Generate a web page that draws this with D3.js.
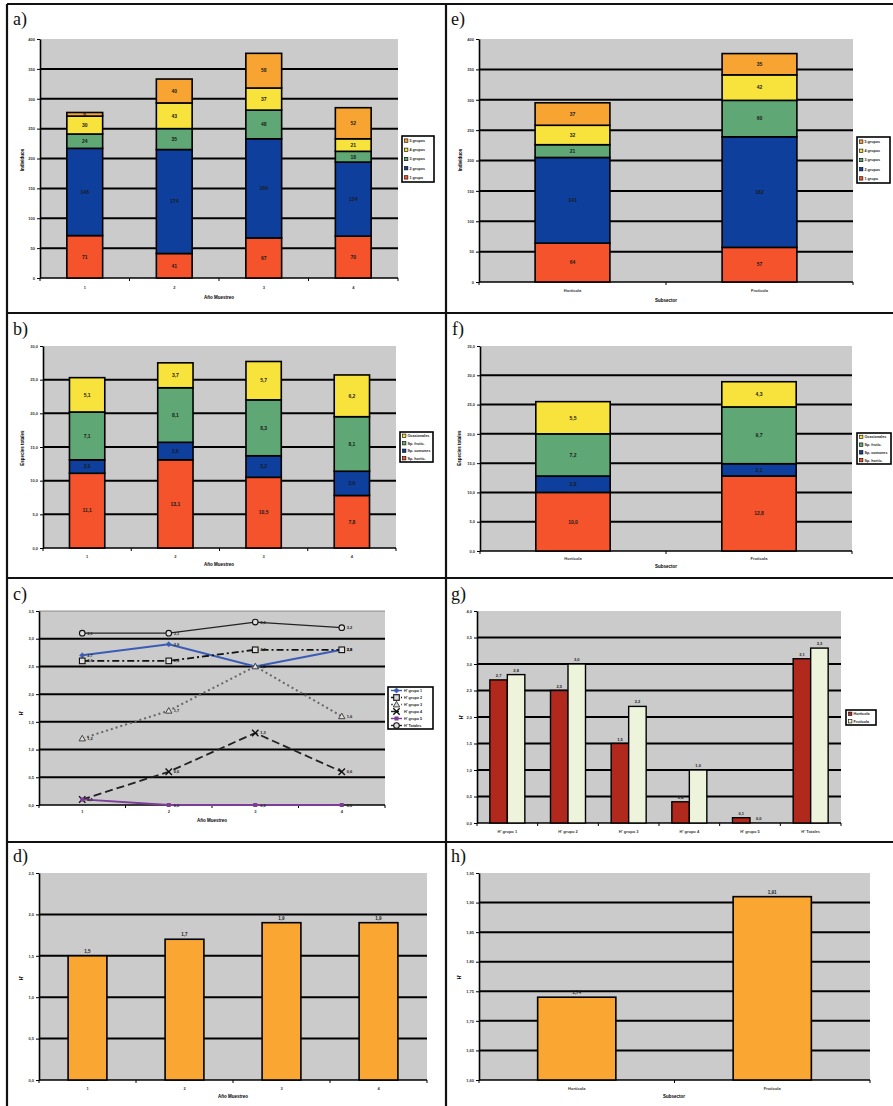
<!DOCTYPE html>
<html>
<head>
<meta charset="utf-8">
<script src="https://cdn.jsdelivr.net/npm/d3@7"></script>
<style>
  body { margin: 0; background: #fff; }
  svg { display: block; }
  text { font-family: "Liberation Sans", Arial, sans-serif; }
</style>
</head>
<body>
<svg id="fig" width="893" height="1106"></svg>
<script>
// ---------- categories ----------
const years = ["1", "2", "3", "4"];
const sectors = ["Hortícola", "Frutícola"];
const groupLabels = ["1 grupo", "2 grupos", "3 grupos", "4 grupos", "5 grupos"];
const speciesLabels = ["Sp. hortíc.", "Sp. comunes", "Sp. frutíc.", "Ocasionales"];
const diversityLabels = ["H' grupo 1", "H' grupo 2", "H' grupo 3", "H' grupo 4", "H' grupo 5", "H' Totales"];

// ---------- a) abundance by year, stacked by group ----------
const aGrupo1 = [71, 41, 67, 70];
const aGrupo2 = [146, 174, 166, 124];
const aGrupo3 = [24, 35, 48, 18];
const aGrupo4 = [30, 43, 37, 21];
const aGrupo5 = [6, 40, 58, 52];

// ---------- e) abundance by sector ----------
const eGrupo1 = [64, 57];
const eGrupo2 = [141, 182];
const eGrupo3 = [21, 60];
const eGrupo4 = [32, 42];
const eGrupo5 = [37, 35];

// ---------- b) species by year ----------
const bSerie1 = [11.1, 13.1, 10.5, 7.8];
const bSerie2 = [2.0, 2.6, 3.2, 3.6];
const bSerie3 = [7.1, 8.1, 8.3, 8.1];
const bSerie4 = [5.1, 3.7, 5.7, 6.2];

// ---------- f) species by sector ----------
const fSerie1 = [10.0, 12.8];
const fSerie2 = [2.8, 2.1];
const fSerie3 = [7.2, 9.7];
const fSerie4 = [5.5, 4.3];

// ---------- c) diversity H' by year ----------
const hGrupo1 = [2.7, 2.9, 2.5, 2.8];
const hGrupo2 = [2.6, 2.6, 2.8, 2.8];
const hGrupo3 = [1.2, 1.7, 2.5, 1.6];
const hGrupo4 = [0.1, 0.6, 1.3, 0.6];
const hGrupo5 = [0.1, 0.0, 0.0, 0.0];
const hTotales = [3.1, 3.1, 3.3, 3.2];

// ---------- g) diversity H' by sector ----------
const gHorticola = [2.7, 2.5, 1.5, 0.4, 0.1, 3.1];
const gFruticola = [2.8, 3.0, 2.2, 1.0, 0.0, 3.3];

// ---------- d) and h) ----------
const dValores = [1.5, 1.7, 1.9, 1.9];
const hValores = [1.74, 1.91];

// ---------- tick values ----------
const aTicks = [0, 50, 100, 150, 200, 250, 300, 350, 400];
const bTicks = [0, 5, 10, 15, 20, 25, 30];
const fTicks = [0, 5, 10, 15, 20, 25, 30, 35];
const cTicks = [0, 0.5, 1, 1.5, 2, 2.5, 3, 3.5];
const gTicks = [0, 0.5, 1, 1.5, 2, 2.5, 3, 3.5, 4];
const dTicks = [0, 0.5, 1, 1.5, 2, 2.5];
const hTicks = [1.60, 1.65, 1.70, 1.75, 1.80, 1.85, 1.90, 1.95];

// ---------- styling ----------
const PLOT_BG = "#cbcbcb";
const stackColors = ["#f4532b", "#0e3f9d", "#5fa774", "#f8e33c", "#f8a433"];
const barOrange = "#f9a632";
const hortRed = "#b1291d";
const frutCream = "#eef3dc";

const loc = d3.formatLocale({ decimal: ",", thousands: ".", grouping: [3], currency: ["", ""] });
const f0 = d3.format("d");
const f1 = loc.format(".1f");
const f2 = loc.format(".2f");

const svg = d3.select("#fig");

// ---------- shared helpers ----------
function plotBackground(p) {
  svg.append("rect")
    .attr("x", p.x0).attr("y", p.y0)
    .attr("width", p.x1 - p.x0).attr("height", p.y1 - p.y0)
    .attr("fill", PLOT_BG);
}

function yAxis(p, ticks, fmt) {
  const dom = [ticks[0], ticks[ticks.length - 1]];
  const y = d3.scaleLinear().domain(dom).range([p.y1, p.y0]);
  svg.append("g").selectAll("line")
    .data(ticks.slice(1, -1))
    .join("line")
    .attr("x1", p.x0).attr("x2", p.x1)
    .attr("y1", d => y(d)).attr("y2", d => y(d))
    .attr("stroke", "#000").attr("stroke-width", 2);
  const ax = svg.append("g")
    .attr("transform", `translate(${p.x0},0)`)
    .call(d3.axisLeft(y).tickValues(ticks).tickSize(3).tickSizeOuter(0).tickPadding(2).tickFormat(fmt));
  ax.select(".domain").attr("stroke-width", 1.6);
  ax.selectAll(".tick line").attr("stroke-width", 1);
  ax.selectAll("text").attr("font-size", 4).attr("font-weight", "bold").attr("fill", "#333");
  return y;
}

function xAxis(p, cats, labelY) {
  const x = d3.scaleBand().domain(cats).range([p.x0, p.x1]);
  const g = svg.append("g");
  g.append("line")
    .attr("x1", p.x0).attr("x2", p.x1).attr("y1", p.y1).attr("y2", p.y1)
    .attr("stroke", "#000").attr("stroke-width", 1.6);
  g.selectAll("line.tk")
    .data(d3.range(cats.length + 1))
    .join("line").attr("class", "tk")
    .attr("x1", i => p.x0 + i * x.bandwidth()).attr("x2", i => p.x0 + i * x.bandwidth())
    .attr("y1", p.y1).attr("y2", p.y1 + 3)
    .attr("stroke", "#000").attr("stroke-width", 1);
  g.selectAll("text")
    .data(cats)
    .join("text")
    .attr("x", d => x(d) + x.bandwidth() / 2).attr("y", labelY)
    .attr("text-anchor", "middle").attr("font-size", 4).attr("font-weight", "bold").attr("fill", "#333")
    .text(d => d);
  return x;
}

function axisTitles(xt, yt) {
  if (xt) {
    svg.append("text").attr("x", xt.x).attr("y", xt.y)
      .attr("text-anchor", "middle").attr("font-size", 4.5).attr("font-weight", "bold")
      .text(xt.text);
  }
  if (yt) {
    svg.append("text")
      .attr("transform", `translate(${yt.x},${yt.y}) rotate(-90)`)
      .attr("text-anchor", "middle").attr("font-size", 4.5).attr("font-weight", "bold")
      .text(yt.text);
  }
}

function panelTag(txt, x, y) {
  svg.append("text").attr("x", x).attr("y", y)
    .style("font-family", "'Liberation Serif', 'DejaVu Serif', serif")
    .attr("font-size", 18).attr("fill", "#111")
    .text(txt);
}

function boxLegend(box, items) {
  const g = svg.append("g");
  g.append("rect").attr("x", box.x).attr("y", box.y).attr("width", box.w).attr("height", box.h)
    .attr("fill", "#fff").attr("stroke", "#000").attr("stroke-width", 1.6);
  const step = box.h / items.length;
  items.forEach((it, i) => {
    const cy = box.y + step * (i + 0.5);
    if (it.draw) {
      it.draw(g, box.x + 3, box.x + 14, cy);
    } else {
      g.append("rect").attr("x", box.x + 2.5).attr("y", cy - 1.7).attr("width", 3.4).attr("height", 3.4)
        .attr("fill", it.color).attr("stroke", "#000").attr("stroke-width", 0.6);
    }
    g.append("text").attr("x", box.x + (it.draw ? 16 : 7.5)).attr("y", cy + 1.4)
      .attr("font-size", 3.7).attr("font-weight", "bold").attr("fill", "#222")
      .text(it.label);
  });
}

// stacked columns: series listed bottom to top
function stackedPanel(cfg) {
  const p = cfg.plot;
  plotBackground(p);
  const y = yAxis(p, cfg.ticks, cfg.tickFmt);
  const x = xAxis(p, cfg.cats, cfg.xLabelY);
  const rows = cfg.cats.map((c, i) => {
    const r = { cat: c };
    cfg.series.forEach((s, k) => { r["s" + k] = s[i]; });
    return r;
  });
  const keys = cfg.series.map((s, k) => "s" + k);
  const stacked = d3.stack().keys(keys)(rows);
  const bw = x.bandwidth() * 0.4;
  stacked.forEach((layer, k) => {
    const g = svg.append("g");
    g.selectAll("rect").data(layer).join("rect")
      .attr("x", d => x(d.data.cat) + (x.bandwidth() - bw) / 2)
      .attr("width", bw)
      .attr("y", d => y(d[1]))
      .attr("height", d => y(d[0]) - y(d[1]))
      .attr("fill", cfg.colors[k])
      .attr("stroke", "#000").attr("stroke-width", 1.6);
    g.selectAll("text").data(layer).join("text")
      .attr("x", d => x(d.data.cat) + x.bandwidth() / 2)
      .attr("y", d => (y(d[0]) + y(d[1])) / 2 + 1.8)
      .attr("text-anchor", "middle").attr("font-size", 5).attr("font-weight", "bold")
      .attr("fill", "#1a1a1a")
      .text(d => cfg.valueFmt(d[1] - d[0]));
  });
  boxLegend(cfg.legend, cfg.legendItems);
  axisTitles(cfg.xTitle, cfg.yTitle);
}

function simpleBarPanel(cfg) {
  const p = cfg.plot;
  plotBackground(p);
  const y = yAxis(p, cfg.ticks, cfg.tickFmt);
  const x = xAxis(p, cfg.cats, cfg.xLabelY);
  const bw = x.bandwidth() * 0.4;
  const base = cfg.ticks[0];
  const data = cfg.cats.map((c, i) => ({ cat: c, v: cfg.values[i] }));
  svg.append("g").selectAll("rect").data(data).join("rect")
    .attr("x", d => x(d.cat) + (x.bandwidth() - bw) / 2)
    .attr("width", bw)
    .attr("y", d => y(d.v))
    .attr("height", d => y(base) - y(d.v))
    .attr("fill", barOrange).attr("stroke", "#000").attr("stroke-width", 1.6);
  svg.append("g").selectAll("text").data(data).join("text")
    .attr("x", d => x(d.cat) + x.bandwidth() / 2)
    .attr("y", d => y(d.v) - 3)
    .attr("text-anchor", "middle").attr("font-size", 4.5).attr("font-weight", "bold").attr("fill", "#222")
    .text(d => cfg.valueFmt(d.v));
  axisTitles(cfg.xTitle, cfg.yTitle);
}

// ---------- figure frame ----------
const frame = svg.append("g").attr("stroke", "#111").attr("stroke-width", 2.2);
frame.append("line").attr("x1", 7).attr("x2", 893).attr("y1", 4).attr("y2", 4);
frame.append("line").attr("x1", 7).attr("x2", 7).attr("y1", 4).attr("y2", 1106);
frame.append("line").attr("x1", 446).attr("x2", 446).attr("y1", 4).attr("y2", 1106);
[313, 578, 842].forEach(v => frame.append("line").attr("x1", 7).attr("x2", 893).attr("y1", v).attr("y2", v));

const groupLegend = groupLabels.map((l, i) => ({ label: l, color: stackColors[i] })).reverse();
const speciesLegend = speciesLabels.map((l, i) => ({ label: l, color: stackColors[i] })).reverse();

// ---------- a) ----------
panelTag("a)", 13, 25);
stackedPanel({
  plot: { x0: 40, x1: 398, y0: 39, y1: 278 },
  cats: years, ticks: aTicks, tickFmt: f0, valueFmt: f0, xLabelY: 289,
  series: [aGrupo1, aGrupo2, aGrupo3, aGrupo4, aGrupo5], colors: stackColors,
  legend: { x: 402, y: 136, w: 32, h: 46 }, legendItems: groupLegend,
  xTitle: { x: 219, y: 299, text: "Año Muestreo" },
  yTitle: { x: 24, y: 160, text: "Individuos" }
});

// ---------- e) ----------
panelTag("e)", 451, 25);
stackedPanel({
  plot: { x0: 479, x1: 853, y0: 39, y1: 282 },
  cats: sectors, ticks: aTicks, tickFmt: f0, valueFmt: f0, xLabelY: 292,
  series: [eGrupo1, eGrupo2, eGrupo3, eGrupo4, eGrupo5], colors: stackColors,
  legend: { x: 857, y: 137, w: 33, h: 46 }, legendItems: groupLegend,
  xTitle: { x: 666, y: 302, text: "Subsector" },
  yTitle: { x: 462, y: 160, text: "Individuos" }
});

// ---------- b) ----------
panelTag("b)", 13, 335);
stackedPanel({
  plot: { x0: 43, x1: 396, y0: 346, y1: 548 },
  cats: years, ticks: bTicks, tickFmt: f1, valueFmt: f1, xLabelY: 558,
  series: [bSerie1, bSerie2, bSerie3, bSerie4], colors: stackColors.slice(0, 4),
  legend: { x: 400, y: 432, w: 33, h: 30 }, legendItems: speciesLegend,
  xTitle: { x: 219, y: 566, text: "Año Muestreo" },
  yTitle: { x: 24, y: 448, text: "Especies totales" }
});

// ---------- f) ----------
panelTag("f)", 452, 335);
stackedPanel({
  plot: { x0: 480, x1: 852, y0: 346, y1: 551 },
  cats: sectors, ticks: fTicks, tickFmt: f1, valueFmt: f1, xLabelY: 560,
  series: [fSerie1, fSerie2, fSerie3, fSerie4], colors: stackColors.slice(0, 4),
  legend: { x: 857, y: 433, w: 34, h: 31 }, legendItems: speciesLegend,
  xTitle: { x: 666, y: 568, text: "Subsector" },
  yTitle: { x: 461, y: 448, text: "Especies totales" }
});

// ---------- c) line chart ----------
panelTag("c)", 13, 600);
(function () {
  const p = { x0: 39, x1: 385, y0: 611, y1: 805 };
  plotBackground(p);
  svg.append("line").attr("x1", p.x0).attr("x2", p.x1).attr("y1", p.y0).attr("y2", p.y0)
    .attr("stroke", "#777").attr("stroke-width", 0.8);
  const y = yAxis(p, cTicks, f1);
  const x = xAxis(p, years, 813);
  const cx = c => x(c) + x.bandwidth() / 2;

  const markers = {
    diamond: (g, px, py, col) => g.append("path")
      .attr("d", `M${px},${py - 2.6}L${px + 2.6},${py}L${px},${py + 2.6}L${px - 2.6},${py}Z`)
      .attr("fill", col).attr("stroke", col).attr("stroke-width", 0.6),
    square: (g, px, py) => g.append("rect").attr("x", px - 2.8).attr("y", py - 2.8)
      .attr("width", 5.6).attr("height", 5.6).attr("fill", "#ddd").attr("stroke", "#111").attr("stroke-width", 1.1),
    triangle: (g, px, py) => g.append("path")
      .attr("d", `M${px},${py - 3.2}L${px + 3.2},${py + 2.4}L${px - 3.2},${py + 2.4}Z`)
      .attr("fill", "#ddd").attr("stroke", "#444").attr("stroke-width", 1),
    cross: (g, px, py) => g.append("path")
      .attr("d", `M${px - 3.2},${py - 3.2}L${px + 3.2},${py + 3.2}M${px + 3.2},${py - 3.2}L${px - 3.2},${py + 3.2}`)
      .attr("stroke", "#111").attr("stroke-width", 1.4),
    dot: (g, px, py, col) => g.append("rect").attr("x", px - 2).attr("y", py - 2)
      .attr("width", 4).attr("height", 4).attr("fill", col),
    circle: (g, px, py) => g.append("circle").attr("cx", px).attr("cy", py).attr("r", 2.8)
      .attr("fill", "#ddd").attr("stroke", "#111").attr("stroke-width", 1.1)
  };

  const series = [
    { label: diversityLabels[0], vals: hGrupo1, color: "#3a5cb6", width: 2, dash: null, mk: "diamond" },
    { label: diversityLabels[1], vals: hGrupo2, color: "#111", width: 1.8, dash: "7,3,2,3", mk: "square" },
    { label: diversityLabels[2], vals: hGrupo3, color: "#666", width: 2, dash: "2,3", mk: "triangle" },
    { label: diversityLabels[3], vals: hGrupo4, color: "#222", width: 1.8, dash: "8,4", mk: "cross" },
    { label: diversityLabels[4], vals: hGrupo5, color: "#7b3d98", width: 1.8, dash: null, mk: "dot" },
    { label: diversityLabels[5], vals: hTotales, color: "#222", width: 1.4, dash: null, mk: "circle" }
  ];
  const line = d3.line().x(d => cx(d.c)).y(d => y(d.v));
  series.forEach(s => {
    const pts = years.map((c, i) => ({ c, v: s.vals[i] }));
    const g = svg.append("g");
    g.append("path").datum(pts).attr("d", line)
      .attr("fill", "none").attr("stroke", s.color).attr("stroke-width", s.width)
      .attr("stroke-dasharray", s.dash);
    pts.forEach(pt => markers[s.mk](g, cx(pt.c), y(pt.v), s.color));
    g.selectAll("text").data(pts).join("text")
      .attr("x", d => cx(d.c) + 5).attr("y", d => y(d.v) + 1.5)
      .attr("font-size", 4).attr("font-weight", "bold").attr("fill", "#222")
      .text(d => f1(d.v));
  });
  boxLegend({ x: 388, y: 687, w: 45, h: 42 }, series.map(s => ({
    label: s.label,
    draw: (g, a, b, cy) => {
      g.append("line").attr("x1", a).attr("x2", b).attr("y1", cy).attr("y2", cy)
        .attr("stroke", s.color).attr("stroke-width", 1.4).attr("stroke-dasharray", s.dash);
      markers[s.mk](g, (a + b) / 2, cy, s.color);
    }
  })));
  axisTitles({ x: 212, y: 822, text: "Año Muestreo" }, { x: 23, y: 713, text: "H'" });
})();

// ---------- g) grouped columns ----------
panelTag("g)", 451, 600);
(function () {
  const p = { x0: 477, x1: 841, y0: 611, y1: 823 };
  plotBackground(p);
  const y = yAxis(p, gTicks, f1);
  const x = xAxis(p, diversityLabels, 833);
  const inner = d3.scaleBand().domain(sectors).range([0, 35]);
  const off = (x.bandwidth() - 35) / 2;
  const sets = [gHorticola, gFruticola];
  const cols = [hortRed, frutCream];
  sectors.forEach((s, k) => {
    const data = diversityLabels.map((c, i) => ({ c, v: sets[k][i] }));
    const g = svg.append("g");
    g.selectAll("rect").data(data).join("rect")
      .attr("x", d => x(d.c) + off + inner(s))
      .attr("width", inner.bandwidth())
      .attr("y", d => y(d.v))
      .attr("height", d => y(0) - y(d.v))
      .attr("fill", cols[k]).attr("stroke", "#000").attr("stroke-width", 1.4);
    g.selectAll("text").data(data).join("text")
      .attr("x", d => x(d.c) + off + inner(s) + inner.bandwidth() / 2)
      .attr("y", d => y(d.v) - 3)
      .attr("text-anchor", "middle").attr("font-size", 4).attr("font-weight", "bold").attr("fill", "#222")
      .text(d => f1(d.v));
  });
  boxLegend({ x: 846, y: 710, w: 30, h: 15 }, sectors.map((s, k) => ({ label: s, color: cols[k] })));
  axisTitles(null, { x: 463, y: 717, text: "H'" });
})();

// ---------- d) ----------
panelTag("d)", 13, 862);
simpleBarPanel({
  plot: { x0: 39, x1: 427, y0: 873, y1: 1080 },
  cats: years, ticks: dTicks, tickFmt: f1, valueFmt: f1, values: dValores, xLabelY: 1090,
  xTitle: { x: 233, y: 1098, text: "Año Muestreo" },
  yTitle: { x: 23, y: 978, text: "H'" }
});

// ---------- h) ----------
panelTag("h)", 451, 862);
simpleBarPanel({
  plot: { x0: 479, x1: 870, y0: 873, y1: 1080 },
  cats: sectors, ticks: hTicks, tickFmt: f2, valueFmt: f2, values: hValores, xLabelY: 1090,
  xTitle: { x: 674, y: 1098, text: "Subsector" },
  yTitle: { x: 461, y: 977, text: "H'" }
});
</script>
</body>
</html>
